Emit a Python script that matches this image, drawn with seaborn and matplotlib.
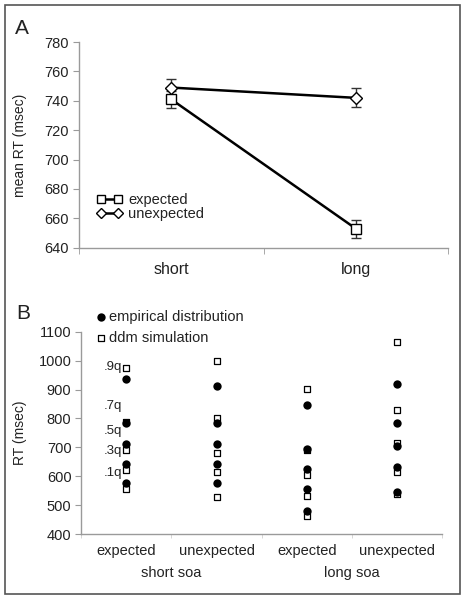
import numpy as np
import pandas as pd
import matplotlib
matplotlib.use('Agg')
from matplotlib import pyplot as plt
from matplotlib.patches import Rectangle
import seaborn as sns

# ---- data ----
soa = ['short', 'long']
cues = ['expected', 'unexpected']
mean_expected = [741, 653]
mean_unexpected = [749, 742]
se_expected = [6, 6]
se_unexpected = [6, 6.5]

conds = ['short|expected', 'short|unexpected', 'long|expected', 'long|unexpected']
cond_ticklabels = ['expected', 'unexpected', 'expected', 'unexpected']
group_labels = ['short soa', 'long soa']
empirical = [[937, 783, 711, 644, 575],
             [913, 783, 711, 644, 575],
             [848, 694, 624, 555, 480],
             [921, 785, 703, 633, 545]]
ddm = [[976, 788, 690, 621, 557],
       [998, 800, 682, 613, 528],
       [901, 690, 603, 531, 464],
       [1063, 830, 714, 614, 540]]
q_labels = ['.9q', '.7q', '.5q', '.3q', '.1q']
q_label_y = [977, 843, 757, 686, 610]

sns.set_style('white')
plt.rcParams['font.family'] = ['Liberation Sans', 'DejaVu Sans']
txt = '#222222'
spine = '#9a9a9a'

fig = plt.figure(figsize=(4.64, 6.0), dpi=100)

# ---------------- panel A ----------------
dfa = pd.DataFrame({
    'soa': soa * 2,
    'cue': [cues[0]] * 2 + [cues[1]] * 2,
    'rt': mean_expected + mean_unexpected,
})
ax = fig.add_axes([0.170, 0.587, 0.796, 0.343])
sns.pointplot(data=dfa, x='soa', y='rt', hue='cue', order=soa, hue_order=cues,
              palette=['black', 'black'], markers=['s', 'D'], linestyles=['-', '-'],
              errorbar=None, dodge=False, legend=False, ax=ax,
              linewidth=1.8, markersize=6.5, markeredgewidth=1.0,
              markerfacecolor='white', markeredgecolor='black')
handles = list(ax.lines[:2])
xpos = np.arange(len(soa))
ax.errorbar(xpos, mean_expected, yerr=se_expected, fmt='none', ecolor='#333333',
            elinewidth=1, capsize=3.5, capthick=1, zorder=1)
ax.errorbar(xpos, mean_unexpected, yerr=se_unexpected, fmt='none', ecolor='#333333',
            elinewidth=1, capsize=3.5, capthick=1, zorder=1)
ax.set_xlim(-0.5, 1.5)
ax.set_ylim(640, 780)
ax.set_yticks(range(640, 781, 20))
ax.set_xticks(np.arange(-0.5, len(soa), 1), minor=True)
ax.set_xlabel('')
ax.set_ylabel('mean RT (msec)', fontsize=10, color=txt)
ax.yaxis.set_label_coords(-0.141, 0.5)
ax.tick_params(axis='y', labelsize=10.5, colors=txt, length=4, color=spine, pad=3, direction='out', left=True)
ax.tick_params(axis='x', which='major', labelsize=11.5, colors=txt, length=0, pad=10)
ax.tick_params(axis='x', which='minor', length=4, color=spine, direction='out', bottom=True)
for s in ['top', 'right']:
    ax.spines[s].set_visible(False)
for s in ['left', 'bottom']:
    ax.spines[s].set_color(spine)
    ax.spines[s].set_linewidth(1)
fig.legend(handles=handles, labels=cues, loc='center left', bbox_to_anchor=(0.192, 0.655),
           frameon=False, numpoints=2, markerscale=0.85, handlelength=1.75, handletextpad=0.45,
           labelspacing=0.05, borderpad=0, fontsize=10.5, labelcolor=txt)
fig.text(0.047, 0.953, 'A', fontsize=15, color=txt, ha='center', va='center')

# ---------------- panel B ----------------
rows = []
for c, vals in zip(conds, empirical):
    for v in vals:
        rows.append((c, v, 'empirical'))
for c, vals in zip(conds, ddm):
    for v in vals:
        rows.append((c, v, 'ddm'))
dfb = pd.DataFrame(rows, columns=['cond', 'rt', 'source'])

ax2 = fig.add_axes([0.175, 0.110, 0.778, 0.337])
sns.stripplot(data=dfb[dfb.source == 'ddm'], x='cond', y='rt', order=conds, jitter=False,
              marker='s', color='white', edgecolor='black', linewidth=0.9, size=5, ax=ax2)
n_ddm = len(ax2.collections)
sns.stripplot(data=dfb[dfb.source == 'empirical'], x='cond', y='rt', order=conds, jitter=False,
              marker='o', color='black', edgecolor='black', linewidth=0, size=6, ax=ax2)
ax2.set_xlim(-0.5, len(conds) - 0.5)
ax2.set_ylim(400, 1100)
ax2.set_yticks(range(400, 1101, 100))
ax2.set_xticks(range(len(conds)))
ax2.set_xticklabels(cond_ticklabels)
ax2.set_xticks(np.arange(-0.5, len(conds), 1), minor=True)
ax2.set_xlabel('')
ax2.set_ylabel('RT (msec)', fontsize=10, color=txt)
ax2.yaxis.set_label_coords(-0.15, 0.5)
ax2.tick_params(axis='y', labelsize=10.5, colors=txt, length=4, color=spine, pad=3, direction='out', left=True)
ax2.tick_params(axis='x', which='major', labelsize=10.5, colors=txt, length=0, pad=7)
ax2.tick_params(axis='x', which='minor', length=3, color='#d0d0d0', direction='out', bottom=True)
for s in ['top', 'right']:
    ax2.spines[s].set_visible(False)
for s in ['left', 'bottom']:
    ax2.spines[s].set_color(spine)
    ax2.spines[s].set_linewidth(1)

for lab, yv in zip(q_labels, q_label_y):
    ax2.annotate(lab, xy=(0, yv), xytext=(-3, 0), textcoords='offset points',
                 ha='right', va='center', fontsize=9.5, color=txt)
trans = matplotlib.transforms.blended_transform_factory(ax2.transData, ax2.transAxes)
for i, g in enumerate(group_labels):
    ax2.text(2 * i + 0.5, -0.193, g, transform=trans, ha='center', va='center',
             fontsize=10.5, color=txt)

fig.legend(handles=[ax2.collections[n_ddm], ax2.collections[0]],
           labels=['empirical distribution', 'ddm simulation'],
           loc='center left', bbox_to_anchor=(0.193, 0.454), frameon=False,
           handlelength=0.6, handletextpad=0.25, labelspacing=0.45, borderpad=0,
           fontsize=10.5, labelcolor=txt, scatterpoints=1)
fig.text(0.05, 0.478, 'B', fontsize=15, color=txt, ha='center', va='center')

# outer frame
fig.patches.append(Rectangle((0.011, 0.010), 0.980, 0.982, transform=fig.transFigure,
                             fill=False, edgecolor='#555555', linewidth=1.2))

fig.savefig('out.png', dpi=100)
